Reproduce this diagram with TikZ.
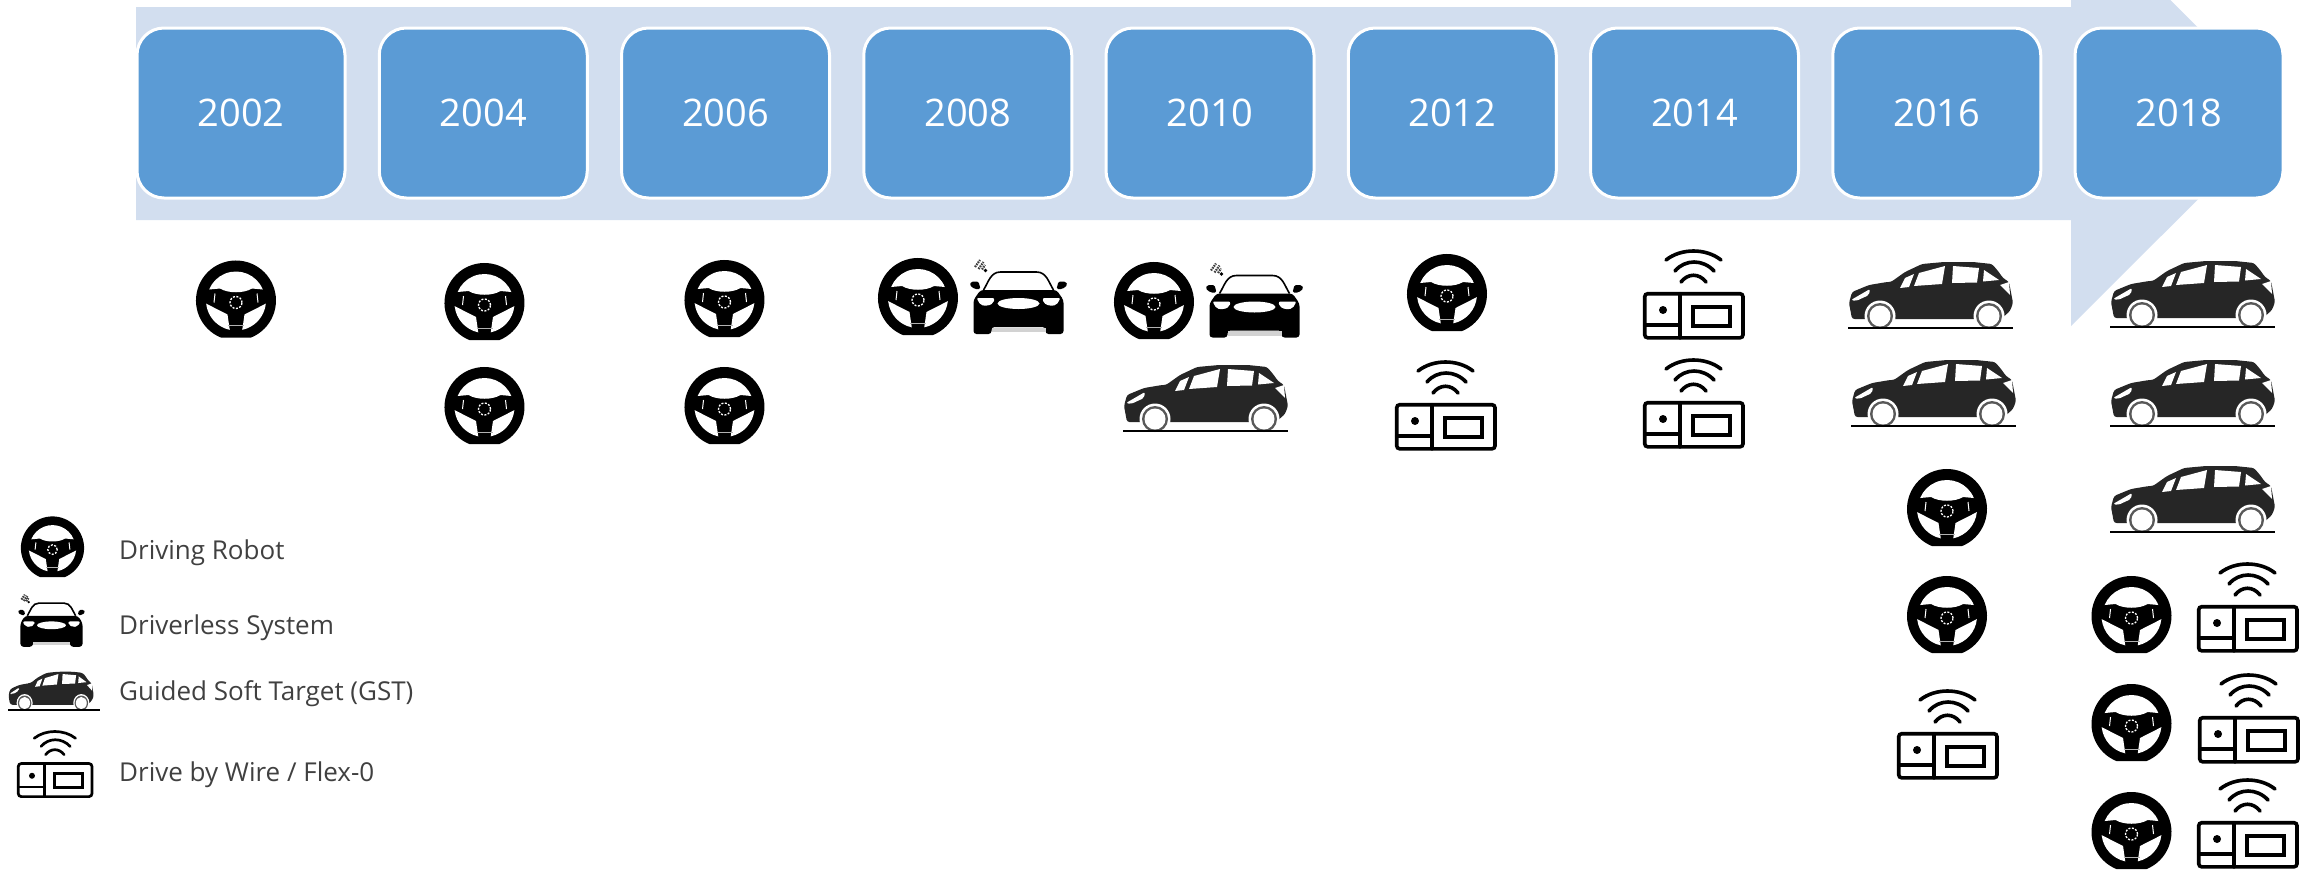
\documentclass[tikz,border=0pt]{standalone}
\usepackage{fontspec}
\setmainfont{Open Sans}
\definecolor{arrowblue}{HTML}{D2DEEF}
\definecolor{boxblue}{HTML}{5B9BD5}
\definecolor{legendgray}{HTML}{404040}
\definecolor{cardark}{HTML}{262626}
\tikzset{
  x=1pt,y=1pt,
  yearbox/.style={rectangle,rounded corners=27pt,draw=white,line width=3pt,fill=boxblue,text=white,
    minimum width=208pt,minimum height=170pt,inner sep=0pt,font=\fontsize{38}{42}\selectfont},
  legendtext/.style={anchor=base west,inner sep=0pt,text=legendgray,font=\fontsize{26}{30}\selectfont},
  steerwheel/.pic={
    \fill[black] (-15.2,-37) arc[start angle=247.7,end angle=-67.7,radius=40] -- cycle;
    \fill[white] (26.8,11) arc[start angle=22.3,end angle=157.7,radius=29] -- (-16,12) .. controls (-8,7) and (8,7) .. (16,12) -- cycle;
    \fill[white] (186:30) arc[start angle=186,end angle=258,radius=30] -- (-8.5,-14) -- cycle;
    \fill[white] (-6:30) arc[start angle=-6,end angle=-78,radius=30] -- (8.5,-14) -- cycle;
    \draw[white,line width=1pt] (-21,7) -- (-22,-2) (21,7) -- (22,-2);
    \draw[white,line width=1.3pt,dash pattern=on 2pt off 1.5pt] (0,-2) circle[radius=6];
    \draw[gray!60,line width=.9pt] (-8,-25) -- (8,-25);
  },
  frontcar/.pic={
    \fill[black,rounded corners=3pt] (-45,-38) -- (-45,-4) -- (-38,6) -- (38,6) -- (45,-4) -- (45,-38) -- (27,-38) -- (27,-31) -- (-27,-31) -- (-27,-38) -- cycle;
    \fill[gray!35] (-27,-31.5) rectangle (27,-36);
    \fill[white,rounded corners=2pt] (-42,-2) -- (-24,-2) -- (-25,-7) -- (-31,-10) -- (-38,-9) -- cycle;
    \fill[white,rounded corners=2pt] (42,-2) -- (24,-2) -- (25,-7) -- (31,-10) -- (38,-9) -- cycle;
    \fill[white] (0,-7.5) ellipse[x radius=21,y radius=5.5];
    \draw[black,line width=1.6pt] (-35,6) .. controls (-30,14) and (-28,24) .. (-18,24) -- (18,24) .. controls (28,24) and (30,14) .. (35,6);
    \fill[black,rounded corners=1.5pt] (-49,11) -- (-47,14.5) -- (-40,14.5) -- (-38,7) -- (-44,7) -- cycle;
    \fill[black,rounded corners=1.5pt] (49,11) -- (47,14.5) -- (40,14.5) -- (38,7) -- (44,7) -- cycle;
    \draw[black!75,line width=2.2pt,dash pattern=on 1.6pt off .9pt] (-43.5,29) -- (-38.5,36) (-40,27) -- (-35,34) (-36.5,26.5) -- (-33.5,31);
    \fill[black] (-33,25.5) circle[radius=1.8];
  },
  sidecar/.pic={
    \fill[cardark,rounded corners=2.5pt] (4,9) -- (1,25) -- (4,36) -- (21,43) -- (39,46) -- (43,46) -- (57,56) -- (74,64) -- (96,66) -- (125,66) -- (144,64) -- (150,57) -- (155,50) -- (161,46) -- (165,25) -- (162,17) -- (153,9) -- cycle;
    \foreach \wx in {32,141} {
      \fill[white] (\wx,12) circle[radius=15.5];
      \fill[gray!70!black] (\wx,12) circle[radius=13];
      \fill[white] (\wx,12) circle[radius=10.5];
    }
    \fill[white] (52,40) -- (57,50) -- (66,54) -- (61,41) -- cycle;
    \fill[white] (66,42) -- (71,55) -- (97,62) -- (94,44) -- cycle;
    \fill[white] (104,45) -- (105,62) -- (131,60) -- (129,45.5) -- cycle;
    \fill[white] (135,46.5) -- (136,58) -- (151,48) -- cycle;
    \fill[white,rounded corners=2pt] (3,28) -- (22,39) -- (21,33) -- (8,27) -- cycle;
    \fill[white] (152,43) -- (161,46) -- (162,33) -- cycle;
    \draw[black,line width=2.4pt] (0,0) -- (165,0);
  },
  dbwunit/.pic={
    \begin{scope}[black,line cap=round]
      \draw[rounded corners=3pt] (1.7,-44.7) rectangle (100,-88.8);
      \draw (37,-44.7) -- (37,-88.8) (1.7,-76) -- (37,-76);
      \fill (20,-61) circle[radius=4];
      \draw (50,-58) rectangle (87,-77);
      \draw (23,-11) .. controls (38,1) and (63,1) .. (78,-11);
      \draw (32,-22) .. controls (42,-10) and (60,-10) .. (71,-22);
      \draw (38,-33) .. controls (45,-24) and (56,-24) .. (63,-33);
    \end{scope}
  },
}
\begin{document}
\begin{tikzpicture}
\useasboundingbox (0,0) rectangle (2306,-873);
\clip (0,0) rectangle (2306,-873);
\fill[arrowblue] (136,-7) -- (2071,-7) -- (2071,99) -- (2284,-113.5) -- (2071,-326) -- (2071,-220) -- (136,-220) -- cycle;
\foreach \yr [count=\i from 0] in {2002,2004,2006,2008,2010,2012,2014,2016,2018}
  \node[yearbox] (y\yr) at ({241+242.25*\i},-113) {\yr};
% driving robots
\foreach \p in {(236,-300.5),(484.5,-303),(484.5,-407),(724.5,-300),(724.5,-407),(918,-298),(1154,-302),(1447,-294),(1947,-509),(1947,-616),(2131.5,-616),(2131.5,-724),(2131.5,-832)}
  \pic at \p {steerwheel};
% driverless systems
\pic at (1018.5,-296) {frontcar};
\pic at (1254.5,-299.5) {frontcar};
% guided soft targets
\foreach \p in {(1123,-431),(1848,-328),(1851,-426),(2110,-327),(2110,-426),(2110,-532)}
  \pic at \p {sidecar};
% drive by wire
\pic[line width=3.6pt] at (1395,-360) {dbwunit};
\pic[line width=3.6pt] at (1643,-249) {dbwunit};
\pic[line width=3.6pt] at (1643,-358) {dbwunit};
\pic[line width=3.6pt] at (1897,-689) {dbwunit};
\pic[line width=3.6pt] at (2197,-562) {dbwunit};
\pic[line width=3.6pt] at (2198,-673) {dbwunit};
\pic[line width=3.6pt] at (2197,-778) {dbwunit};
% legend
\pic[scale=.79] at (52.5,-548) {steerwheel};
\pic[xscale=.69,yscale=.705] at (51.5,-620) {frontcar};
\pic[xscale=.52,yscale=.58] at (8,-710) {sidecar};
\draw[black,line width=2pt] (8,-710) -- (100,-710);
\pic[scale=.75,line width=2.7pt] at (17,-730) {dbwunit};
\node[legendtext] (l1) at (119,-559) {Driving Robot};
\node[legendtext] (l2) at (119,-634) {Driverless System};
\node[legendtext] (l3) at (119,-700) {Guided Soft Target (GST)};
\node[legendtext] (l4) at (119,-781) {Drive by Wire / Flex-0};
\end{tikzpicture}
\end{document}
